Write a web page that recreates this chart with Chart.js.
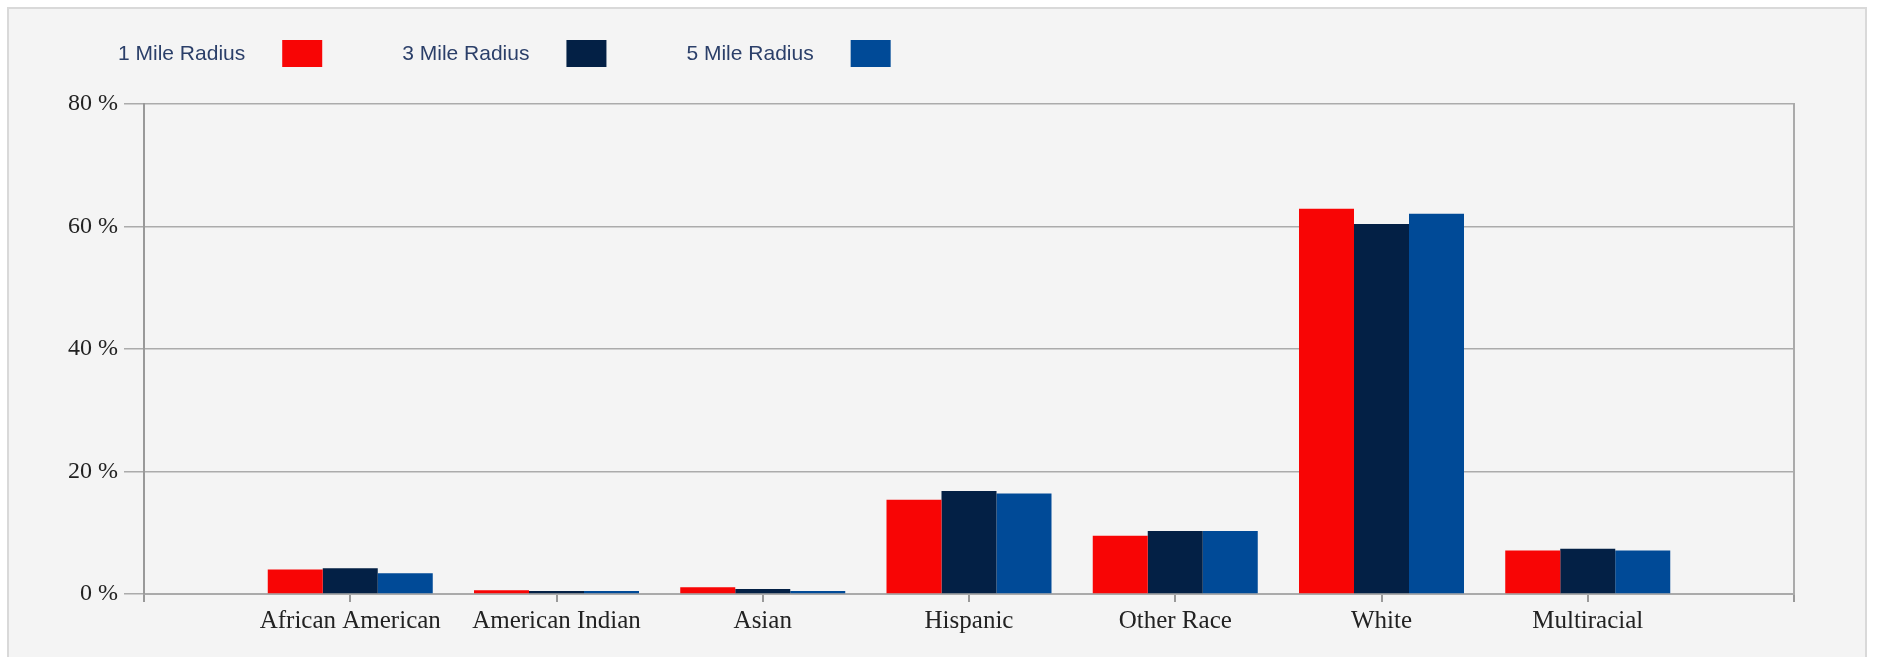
<!DOCTYPE html>
<html>
<head>
<meta charset="utf-8">
<script src="https://cdn.jsdelivr.net/npm/chart.js@4/dist/chart.umd.min.js"></script>
<style>
  html, body { margin: 0; padding: 0; background: #ffffff; }
  #wrap { width: 1881px; height: 657px; }
</style>
</head>
<body>
<div id="wrap"><canvas id="c" width="1881" height="657"></canvas></div>
<script>
// ---- data ----
const categories = ['African American', 'American Indian', 'Asian', 'Hispanic', 'Other Race', 'White', 'Multiracial'];
const seriesNames = ['1 Mile Radius', '3 Mile Radius', '5 Mile Radius'];
const mile1 = [4.0, 0.6, 1.1, 15.4, 9.5, 62.9, 7.1];
const mile3 = [4.2, 0.5, 0.8, 16.8, 10.3, 60.4, 7.4];
const mile5 = [3.4, 0.5, 0.5, 16.4, 10.3, 62.1, 7.1];
const yTicks = [0, 20, 40, 60, 80];
const seriesColors = ['#f80505', '#032045', '#004a97'];

// padded category list: empty slot at each end so categories sit on tick marks
const paddedLabels = [''].concat(categories, ['']);
const pad = arr => [null].concat(arr, [null]);
const seriesValues = [mile1, mile3, mile5];

const panelPlugin = {
  id: 'panel',
  beforeDraw(chart) {
    const ctx = chart.ctx;
    ctx.save();
    ctx.fillStyle = '#ffffff';
    ctx.fillRect(0, 0, chart.width, chart.height);
    ctx.fillStyle = '#f4f4f4';
    ctx.fillRect(8, 8, chart.width - 23, chart.height);
    ctx.strokeStyle = '#d9d9d9';
    ctx.lineWidth = 2;
    ctx.strokeRect(8, 8, chart.width - 23, chart.height + 10);
    ctx.restore();
  }
};

const legendPlugin = {
  id: 'customLegend',
  afterDraw(chart) {
    const ctx = chart.ctx;
    ctx.save();
    ctx.font = '21px "Liberation Sans"';
    ctx.textBaseline = 'middle';
    ctx.textAlign = 'left';
    let x = 118;
    chart.data.datasets.forEach(ds => {
      ctx.fillStyle = '#2b3f69';
      ctx.fillText(ds.label, x, 54);
      x += ctx.measureText(ds.label).width + 37;
      ctx.fillStyle = ds.backgroundColor;
      ctx.fillRect(x, 40, 40, 27);
      x += 40 + 80;
    });
    ctx.restore();
  }
};

new Chart(document.getElementById('c'), {
  type: 'bar',
  data: {
    labels: paddedLabels,
    datasets: seriesNames.map((n, i) => ({
      label: n,
      data: pad(seriesValues[i]),
      backgroundColor: seriesColors[i],
      borderWidth: 0,
      categoryPercentage: 0.8,
      barPercentage: 1.0
    }))
  },
  options: {
    responsive: false,
    devicePixelRatio: 1,
    animation: false,
    layout: { padding: { top: 104, right: 87, bottom: 0, left: 0 } },
    plugins: {
      legend: { display: false },
      tooltip: { enabled: false }
    },
    scales: {
      x: {
        type: 'category',
        offset: false,
        grid: {
          offset: false,
          drawOnChartArea: false,
          drawTicks: true,
          tickLength: 8,
          color: '#999999',
          lineWidth: 2
        },
        border: { display: true, color: '#aaaaaa', width: 2 },
        ticks: {
          autoSkip: false,
          maxRotation: 0,
          padding: 4,
          color: '#222222',
          font: { family: '"Liberation Serif"', size: 25 }
        },
        afterFit(scale) { scale.height = 63; }
      },
      y: {
        min: 0,
        max: 80,
        afterBuildTicks(scale) { scale.ticks = yTicks.map(v => ({ value: v })); },
        grid: {
          color: '#ababab',
          lineWidth: 1.5,
          tickLength: 20,
          drawTicks: true
        },
        border: { display: true, color: '#999999', width: 2 },
        ticks: {
          padding: 6,
          color: '#222222',
          font: { family: '"Liberation Serif"', size: 24 },
          callback: v => v + ' %'
        },
        afterFit(scale) { scale.width = 144; }
      },
      y2: {
        position: 'right',
        min: 0,
        max: 80,
        grid: { drawOnChartArea: false, drawTicks: false },
        ticks: { display: false },
        border: { display: true, color: '#aaaaaa', width: 2 },
        afterFit(scale) { scale.width = 0; }
      }
    }
  },
  plugins: [panelPlugin, legendPlugin]
});
</script>
</body>
</html>
